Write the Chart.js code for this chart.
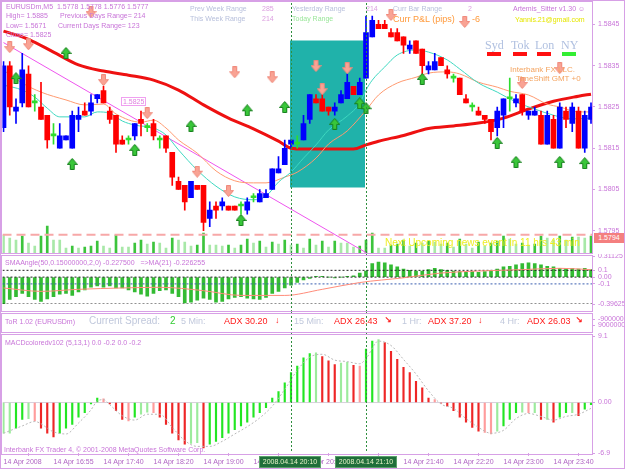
<!DOCTYPE html>
<html>
<head>
<meta charset="utf-8">
<script src="https://cdn.jsdelivr.net/npm/chart.js@4"></script>
<style>
body { margin: 0; background: #fff; }
#wrap { position: relative; width: 625px; height: 469px; overflow: hidden; background: #fff;
        font-family: "Liberation Sans", Arial, "DejaVu Sans", sans-serif; }
canvas { position: absolute; left: 0; }
.t { position: absolute; white-space: nowrap; font-size: 7px; line-height: 1; color: #c874d8; }
.frame { position: absolute; box-sizing: border-box; border: 1px solid #d7a0e6; pointer-events: none; }
.sess { position: absolute; height: 4px; width: 14px; top: 52px; }
.stamp { position: absolute; top: 456px; height: 12px; width: 62px; box-sizing: border-box; background: #1f6e3a;
         border: 1px solid #5aa06a; color: #e8f4c8; font-size: 7px; line-height: 10px; text-align: center; }
</style>
</head>
<body>
<div id="wrap">
  <canvas id="main" width="625" height="254" style="top:0"></canvas>
  <canvas id="sma" width="625" height="58" style="top:254px"></canvas>
  <canvas id="tor" width="625" height="21" style="top:312px"></canvas>
  <canvas id="macd" width="625" height="136" style="top:333px"></canvas>

  <!-- main window texts -->
  <div class="t" style="left:6px;top:3px">EURUSDm,M5&nbsp; 1.5778 1.5778 1.5776 1.5777</div>
  <div class="t" style="left:6px;top:12px">High= 1.5885</div>
  <div class="t" style="left:60px;top:12px">Previous Days Range= 214</div>
  <div class="t" style="left:6px;top:22px">Low= 1.5671</div>
  <div class="t" style="left:58px;top:22px">Current Days Range= 123</div>
  <div class="t" style="left:6px;top:31px">Close= 1.5825</div>
  <div class="t" style="left:190px;top:5px;color:#b8c0dc">Prev Week Range</div>
  <div class="t" style="left:262px;top:5px;color:#dca0e0">285</div>
  <div class="t" style="left:190px;top:15px;color:#b8c0dc">This Week Range</div>
  <div class="t" style="left:262px;top:15px;color:#dca0e0">214</div>
  <div class="t" style="left:292px;top:5px;color:#b8c0dc">Yesterday Range</div>
  <div class="t" style="left:366px;top:5px;color:#dca0e0">214</div>
  <div class="t" style="left:292px;top:15px;color:#99e699">Today Range</div>
  <div class="t" style="left:393px;top:5px;color:#b8c0dc">Curr Bar Range</div>
  <div class="t" style="left:468px;top:5px;color:#dca0e0">2</div>
  <div class="t" style="left:393px;top:15px;font-size:9px;color:#ff9a3c">Curr P&amp;L (pips)</div>
  <div class="t" style="left:472px;top:15px;font-size:9px;color:#ff9a3c">-6</div>
  <div class="t" style="left:513px;top:5px">Artemis_Sitter v1.30 &#9786;</div>
  <div class="t" style="left:515px;top:16px;color:#e6e600">Yannis.21@gmail.com</div>
  <div class="t" style="left:485px;top:38px;font:12px 'Liberation Serif',serif;color:#b0c0e0">Syd</div>
  <div class="t" style="left:511px;top:38px;font:12px 'Liberation Serif',serif;color:#b0c0e0">Tok</div>
  <div class="t" style="left:535px;top:38px;font:12px 'Liberation Serif',serif;color:#b0c0e0">Lon</div>
  <div class="t" style="left:561px;top:38px;font:12px 'Liberation Serif',serif;color:#b0c0e0">NY</div>
  <div class="sess" style="left:487px;background:#ff1010"></div>
  <div class="sess" style="left:513px;background:#ff1010"></div>
  <div class="sess" style="left:537px;background:#ff1010"></div>
  <div class="sess" style="left:562px;background:#33ee33"></div>
  <div class="t" style="left:510px;top:66px;font-size:8px;color:#f4a460">Interbank FX LLC.</div>
  <div class="t" style="left:516px;top:75px;font-size:8px;color:#f4a460">TimeShift GMT +0</div>
  <div class="t" style="left:121px;top:97px;border:1px solid #f0a0f0;color:#e080e0;padding:0 1px">1.5825</div>
  <div class="t" style="left:385px;top:238px;font-size:10px;color:#eeee22">Next Upcoming news event in 11 hrs 43 min</div>
  <div class="t" style="left:594px;top:233px;width:30px;height:10px;line-height:10px;background:#f47f7f;color:#fff;text-align:center">1.5794</div>

  <!-- indicator window texts -->
  <div class="t" style="left:5px;top:259px">SMAAngle(50,0.15000000,2,0) -0.227500 &nbsp; =&gt;MA(21) -0.226255</div>
  <div class="t" style="left:5px;top:318px">ToR 1.02 (EURUSDm)</div>
  <div class="t" style="left:89px;top:316px;font-size:10px;color:#c0c8dc">Current Spread:</div>
  <div class="t" style="left:170px;top:316px;font-size:10px;color:#33cc33">2</div>
  <div class="t" style="left:181px;top:317px;font-size:9px;color:#c0c8dc">5 Min:</div>
  <div class="t" style="left:224px;top:317px;font-size:9px;color:#ff2020">ADX 30.20</div>
  <div class="t" style="left:275px;top:316px;font-size:9px;font-weight:bold;color:#ff2020">&#8595;</div>
  <div class="t" style="left:294px;top:317px;font-size:9px;color:#c0c8dc">15 Min:</div>
  <div class="t" style="left:334px;top:317px;font-size:9px;color:#ff2020">ADX 26.43</div>
  <div class="t" style="left:384px;top:316px;font-size:9px;font-weight:bold;color:#ff2020">&#8600;</div>
  <div class="t" style="left:402px;top:317px;font-size:9px;color:#c0c8dc">1 Hr:</div>
  <div class="t" style="left:428px;top:317px;font-size:9px;color:#ff2020">ADX 37.20</div>
  <div class="t" style="left:478px;top:316px;font-size:9px;font-weight:bold;color:#ff2020">&#8595;</div>
  <div class="t" style="left:500px;top:317px;font-size:9px;color:#c0c8dc">4 Hr:</div>
  <div class="t" style="left:527px;top:317px;font-size:9px;color:#ff2020">ADX 26.03</div>
  <div class="t" style="left:575px;top:316px;font-size:9px;font-weight:bold;color:#ff2020">&#8600;</div>
  <div class="t" style="left:5px;top:339px">MACDcoloredv102 (5,13,1) 0.0 -0.2 0.0 -0.2</div>
  <div class="t" style="left:4px;top:446px">Interbank FX Trader 4, &copy; 2001-2008 MetaQuotes Software Corp.</div>

  <div class="stamp" style="left:259px">2008.04.14 20:10</div>
  <div class="stamp" style="left:335px">2008.04.14 21:10</div>

  <!-- window frames -->
  <div class="frame" style="left:0;top:0;width:625px;height:469px"></div>
  <div class="frame" style="left:1px;top:1px;width:592px;height:253px"></div>
  <div class="frame" style="left:1px;top:255px;width:592px;height:57px"></div>
  <div class="frame" style="left:1px;top:313px;width:592px;height:20px"></div>
  <div class="frame" style="left:1px;top:334px;width:592px;height:121px"></div>
</div>

<script>
// EURUSDm M5 candles, bar 0 = 16:20, bar 46 = 20:10, bar 58 = 21:10
const opens  = [1.5820,1.5835,1.5824,1.5826,1.5833,1.5826,1.5825,1.5823,1.5818,1.5815,
                1.5817,1.5815,1.5822,1.5824,1.5824,1.5827,1.5829,1.5824,1.5823,1.5817,
                1.5817,1.5818,1.5822,1.5820,1.5821,1.5817,1.5818,1.5814,1.5807,1.5806,
                1.5803,1.5806,1.5806,1.5798,1.5801,1.5801,1.5801,1.5801,1.5801,1.5800,
                1.5803,1.5802,1.5803,1.5805,1.5809,1.5811,1.5816,1.5816,1.5817,1.5822,
                1.5827,1.5827,1.5825,1.5824,1.5826,1.5827,1.5830,1.5828,1.5832,1.5842,
                1.5845,1.5845,1.5843,1.5843,1.5842,1.5839,1.5841,1.5839,1.5834,1.5834,
                1.5837,1.5834,1.5832,1.5832,1.5827,1.5825,1.5824,1.5823,1.5822,1.5820,
                1.5823,1.5827,1.5826,1.5828,1.5823,1.5823,1.5823,1.5816,1.5822,1.5815,
                1.5824,1.5821,1.5824,1.5815,1.5822];
const highs  = [1.5836,1.5836,1.5827,1.5838,1.5835,1.5828,1.5831,1.5823,1.5821,1.5821,
                1.5818,1.5824,1.5825,1.5826,1.5828,1.5828,1.5830,1.5825,1.5823,1.5818,
                1.5818,1.5821,1.5824,1.5821,1.5822,1.5818,1.5818,1.5814,1.5808,1.5806,
                1.5807,1.5806,1.5806,1.5802,1.5802,1.5803,1.5801,1.5801,1.5802,1.5803,
                1.5804,1.5805,1.5805,1.5810,1.5813,1.5817,1.5817,1.5818,1.5823,1.5828,
                1.5828,1.5828,1.5825,1.5826,1.5829,1.5833,1.5830,1.5832,1.5847,1.5847,
                1.5846,1.5846,1.5844,1.5844,1.5842,1.5841,1.5841,1.5839,1.5836,1.5838,
                1.5837,1.5835,1.5833,1.5832,1.5828,1.5826,1.5825,1.5823,1.5822,1.5825,
                1.5827,1.5832,1.5828,1.5828,1.5824,1.5825,1.5824,1.5824,1.5823,1.5826,
                1.5825,1.5826,1.5825,1.5824,1.5826];
const lows   = [1.5819,1.5823,1.5821,1.5825,1.5825,1.5824,1.5822,1.5815,1.5816,1.5815,
                1.5817,1.5815,1.5819,1.5823,1.5823,1.5826,1.5826,1.5821,1.5814,1.5816,
                1.5816,1.5817,1.5818,1.5819,1.5817,1.5815,1.5814,1.5806,1.5805,1.5800,
                1.5803,1.5805,1.5795,1.5796,1.5798,1.5800,1.5800,1.5800,1.5799,1.5799,
                1.5802,1.5802,1.5803,1.5805,1.5809,1.5811,1.5815,1.5815,1.5817,1.5821,
                1.5826,1.5824,1.5823,1.5823,1.5826,1.5827,1.5828,1.5828,1.5832,1.5842,
                1.5844,1.5844,1.5842,1.5841,1.5838,1.5838,1.5838,1.5833,1.5833,1.5834,
                1.5835,1.5832,1.5831,1.5828,1.5826,1.5824,1.5823,1.5821,1.5817,1.5818,
                1.5820,1.5824,1.5825,1.5823,1.5822,1.5823,1.5816,1.5816,1.5815,1.5815,
                1.5820,1.5819,1.5815,1.5814,1.5821];
const closes = [1.5835,1.5825,1.5825,1.5834,1.5825,1.5826,1.5822,1.5817,1.5818,1.5818,
                1.5818,1.5823,1.5823,1.5823,1.5826,1.5828,1.5826,1.5822,1.5816,1.5816,
                1.5817,1.5821,1.5821,1.5820,1.5818,1.5817,1.5815,1.5808,1.5805,1.5802,
                1.5807,1.5805,1.5797,1.5800,1.5800,1.5802,1.5800,1.5800,1.5801,1.5802,
                1.5803,1.5804,1.5804,1.5810,1.5810,1.5815,1.5817,1.5816,1.5821,1.5828,
                1.5826,1.5824,1.5824,1.5825,1.5828,1.5831,1.5828,1.5831,1.5843,1.5846,
                1.5844,1.5844,1.5842,1.5841,1.5840,1.5840,1.5838,1.5835,1.5835,1.5836,
                1.5835,1.5833,1.5832,1.5828,1.5826,1.5825,1.5823,1.5822,1.5819,1.5824,
                1.5827,1.5827,1.5827,1.5824,1.5824,1.5824,1.5816,1.5823,1.5815,1.5825,
                1.5822,1.5825,1.5815,1.5823,1.5825];
// tick volume (relative heights)
const volumes = [18,15,13,17,10,7,17,27,13,13,5,7,5,6,7,12,7,5,18,6,
                 6,10,13,9,11,10,5,15,13,11,7,8,20,8,8,7,8,5,8,14,
                 10,12,6,11,9,13,8,9,5,14,8,12,6,12,10,10,6,7,13,20,
                 5,5,8,9,13,7,10,10,12,11,9,10,6,14,9,5,11,7,10,12,
                 17,14,9,10,8,9,17,15,13,17,13,16,16,15,17];

// moving averages (bar index -> price)
const slowMaBars = [0,4,8,12,16,20,24,28,32,36,40,44,46,48,52,56,58,60,64,68,72,76,80,84,88,92,94];
const slowMa = [1.58434,1.58414,1.58383,1.58352,1.58337,1.58327,1.58315,1.58291,1.58255,1.58223,1.58197,1.58167,
                1.58150,1.58148,1.58148,1.58148,1.58158,1.58167,1.58181,1.58198,1.58204,1.58211,1.58223,1.58245,
                1.58264,1.58276,1.58281];
const midMaBars = [0,3,6,10,13,16,18,22,24,26,28,31,34,37,40,42,45,47,50,52,55,58,60,63,66,68,71,73,76,79,81,84,87,89,92,94];
const midMa = [1.58339,1.58308,1.58286,1.58267,1.58255,1.58257,1.58233,1.58213,1.58218,1.58199,1.58170,1.58138,
               1.58095,1.58071,1.58066,1.58066,1.58080,1.58092,1.58126,1.58160,1.58192,1.58242,1.58279,1.58308,
               1.58322,1.58332,1.58335,1.58330,1.58310,1.58298,1.58288,1.58279,1.58257,1.58250,1.58238,1.58238];
const fastMaBars = [0,3,5,7,9,11,13,15,17,19,21,24,26,28,31,34,37,40,42,44,46,48,50,52,55,57,58,59,61,63,66,68,71,73,76,79,82,85,88,91,94];
const fastMa = [1.58303,1.58291,1.58274,1.58247,1.58226,1.58226,1.58226,1.58238,1.58235,1.58216,1.58206,1.58199,
                1.58182,1.58146,1.58097,1.58058,1.58032,1.58025,1.58034,1.58068,1.58092,1.58126,1.58158,1.58194,
                1.58228,1.58259,1.58291,1.58315,1.58347,1.58376,1.58388,1.58383,1.58364,1.58342,1.58308,1.58286,
                1.58262,1.58245,1.58230,1.58221,1.58223];
const trendBars = [0, 58];
const trendPrices = [1.58406, 1.57897];
const rangeBoxBars = [45.84, 57.84];
const rangeBoxPrices = [1.58055, 1.58411];
const bidLine = 1.5794;

// signal arrows
const downArrowBars   = [1,4,14,16,23,31,36,37,43,50,51,55,62,73.8,83,89];
const downArrowPrices = [1.58395,1.58402,1.58480,1.58315,1.58235,1.58093,1.58046,1.58334,1.58322,1.58349,
                         1.58293,1.58344,1.58473,1.58456,1.58308,1.58344];
const upArrowBars   = [2,10,11,21,30,38,39,45,53,57,58,67,79,82,89,93];
const upArrowPrices = [1.58320,1.58381,1.58112,1.58146,1.58204,1.57976,1.58242,1.58250,1.58209,1.58259,
                       1.58247,1.58318,1.58163,1.58117,1.58117,1.58114];

const priceTicks = [1.5795, 1.5805, 1.5815, 1.5825, 1.5835, 1.5845];

// SMAAngle window
const smaAngle = [-0.40,-0.33,-0.29,-0.24,-0.29,-0.33,-0.36,-0.32,-0.29,-0.25,
                  -0.24,-0.27,-0.22,-0.19,-0.15,-0.13,-0.15,-0.13,-0.16,-0.16,
                  -0.19,-0.22,-0.25,-0.28,-0.24,-0.20,-0.19,-0.24,-0.29,-0.38,
                  -0.37,-0.34,-0.31,-0.33,-0.37,-0.36,-0.32,-0.30,-0.29,-0.31,
                  -0.32,-0.33,-0.30,-0.24,-0.21,-0.16,-0.12,-0.08,-0.04,-0.02,
                  0.01,0.01,0.00,-0.01,0.00,0.01,0.02,0.06,0.09,0.20,
                  0.22,0.21,0.18,0.15,0.12,0.10,0.09,0.09,0.11,0.13,
                  0.11,0.10,0.09,0.08,0.07,0.08,0.07,0.08,0.10,0.12,
                  0.15,0.16,0.18,0.20,0.21,0.20,0.18,0.16,0.15,0.13,
                  0.13,0.13,0.12,0.13,0.11];
const smaMaBars = [0,6,12,19,25,32,38,45,51,57,64,70,76,83,89,94];
const smaMa = [-0.16,-0.21,-0.18,-0.16,-0.15,-0.20,-0.27,-0.27,-0.18,-0.08,-0.01,0.06,0.09,0.11,0.13,0.11];
const smaLevels = [0.1, 0, -0.1, -0.39625];
const smaTicks = [0.31125, 0.1, 0, -0.1, -0.39625];

// ToR window scale
const torTicks = [-90000000, 90000000];

// MACD colored window
const macdHist = [-4.2,-4.2,-3.5,-2.3,-2.2,-2.5,-3.5,-4.2,-4.7,-4.2,
                  -3.5,-3.0,-2.0,-1.4,-0.2,0.6,0.5,-0.2,-1.1,-2.3,
                  -2.5,-2.0,-1.6,-1.3,-1.4,-2.0,-3.0,-4.2,-5.1,-5.7,
                  -5.6,-5.5,-6.2,-5.7,-5.3,-4.8,-4.2,-3.7,-3.2,-2.7,
                  -2.0,-1.4,-0.7,0.6,1.5,2.7,4.1,5.0,6.1,6.7,
                  6.8,6.3,5.7,5.2,5.4,5.5,5.1,5.0,7.3,8.4,
                  8.6,8.2,7.0,5.9,4.8,4.1,2.9,2.0,0.6,0.4,
                  -0.1,-0.5,-1.1,-2.0,-2.7,-3.4,-3.9,-4.1,-4.3,-3.9,
                  -3.2,-2.3,-1.4,-1.3,-1.4,-1.4,-2.3,-2.3,-2.7,-2.0,
                  -1.4,-1.4,-1.8,-0.9,-0.3];
const macdSignalBars = [0,3,5,8,10,12,14,15,16,17,19,21,23,25,27,29,31,33,35,37,39,41,43,45,47,49,51,53,55,57,58,
                        60,62,64,66,68,70,72,74,76,78,80,82,84,86,88,90,92,94];
const macdSignal = [-4.2,-3.2,-2.6,-4.0,-4.3,-2.8,-1.0,0.2,0.4,-0.3,-1.8,-2.4,-1.6,-1.6,-3.4,-5.2,-6.0,-6.0,-5.3,
                    -4.3,-3.3,-2.1,-0.5,1.8,4.4,6.2,6.6,5.8,5.6,5.3,6.0,8.4,7.8,5.9,3.9,1.6,-0.2,-0.8,-2.2,-3.4,
                    -4.2,-3.8,-2.2,-1.5,-1.9,-2.4,-1.9,-1.6,-0.8];
const macdTicks = [9.1, 0, -6.9];

// time axis
const timeTickBars = [0,8,16,24,32,40,48,56,64,72,80,88];
const timeLabels = ['14 Apr 2008','14 Apr 16:55','14 Apr 17:40','14 Apr 18:20','14 Apr 19:00','14 Apr 19:40',
                    '14 Apr 20:20','14 Apr 21:00','14 Apr 21:40','14 Apr 22:20','14 Apr 23:00','14 Apr 23:40'];
const sessionBars = [46, 58];

const xMin = -0.16, xMax = 94.16;
const VIOLET = '#c874d8', PLUM = '#d7a0e6';

Chart.defaults.font.family = '"Liberation Sans", Arial, sans-serif';
Chart.defaults.font.size = 7;

// dotted vertical lines at 20:10 and 21:10
const sessionLines = {
  id: 'sessionLines',
  afterDatasetsDraw(chart, args, opts) {
    const {ctx, chartArea, scales} = chart;
    const top = opts.fromArea ? chartArea.top : 0;
    const bottom = opts.toArea ? chartArea.bottom : chart.height;
    ctx.save();
    ctx.strokeStyle = '#2f8f3f';
    ctx.lineWidth = 1;
    ctx.setLineDash([2, 2]);
    sessionBars.forEach(b => {
      const px = Math.round(scales.x.getPixelForValue(b)) + 0.5;
      ctx.beginPath();
      ctx.moveTo(px, top);
      ctx.lineTo(px, bottom);
      ctx.stroke();
    });
    ctx.restore();
  }
};

function makeArrow(up, fill, stroke) {
  const c = document.createElement('canvas');
  c.width = 11; c.height = 12;
  const g = c.getContext('2d');
  const pts = [[3.5,0.5],[7.5,0.5],[7.5,5.5],[10.5,5.5],[5.5,11.5],[0.5,5.5],[3.5,5.5]];
  g.beginPath();
  pts.forEach(([px, py], k) => {
    const yy = up ? 12 - py : py;
    if (k) g.lineTo(px, yy); else g.moveTo(px, yy);
  });
  g.closePath();
  g.fillStyle = fill;
  g.fill();
  g.strokeStyle = stroke;
  g.lineWidth = 1;
  g.stroke();
  return c;
}
const arrowDown = makeArrow(false, '#f9a394', '#f08a7c');
const arrowUp = makeArrow(true, '#39c639', '#16801c');

function candleColor(i) {
  if (closes[i] > opens[i]) return '#0000ff';
  if (closes[i] < opens[i]) return '#ff0000';
  return '#2edc2e';
}
const candleColors = opens.map((_, i) => candleColor(i));
const pts = (bars, vals) => bars.map((b, k) => ({x: b, y: vals[k]}));

function xScale(show) {
  const s = {
    type: 'linear', min: xMin, max: xMax, offset: false, display: show,
    afterBuildTicks: sc => { sc.ticks = timeTickBars.map(v => ({value: v})); },
    ticks: { color: '#b064c4', align: 'start', maxRotation: 0, autoSkip: false, padding: 2,
             callback: v => timeLabels[timeTickBars.indexOf(v)] },
    grid: { drawOnChartArea: false, tickLength: 3, color: PLUM },
    border: { display: false }
  };
  if (show) s.afterFit = sc => { sc.height = 14; sc.paddingLeft = 0; sc.paddingRight = 0; };
  return s;
}
function yScale(min, max, ticks, fmt, extra) {
  return Object.assign({
    position: 'right', min: min, max: max,
    afterBuildTicks: s => { s.ticks = ticks.map(v => ({value: v})); },
    // fixed axis width, and no extra room for the end labels
    afterFit: s => { s.width = 33; s.paddingTop = 0; s.paddingBottom = 0; },
    ticks: { color: VIOLET, padding: 3, autoSkip: false, callback: fmt },
    grid: { drawOnChartArea: false, tickLength: 3, color: PLUM },
    border: { display: false }
  }, extra || {});
}
const common = {
  responsive: false, animation: false, events: []
};
function layout(top, bottom) {
  return { autoPadding: false, padding: { left: 2.5, top: top, bottom: bottom, right: 0 } };
}

// main price window
new Chart(document.getElementById('main'), {
  type: 'bar',
  data: { datasets: [
    { type: 'line', data: pts(rangeBoxBars, [rangeBoxPrices[1], rangeBoxPrices[1]]),
      fill: {value: rangeBoxPrices[0]}, backgroundColor: '#20b2aa', borderWidth: 0, pointRadius: 0, order: 20 },
    { type: 'bar', yAxisID: 'yVol', data: volumes.map((v, i) => ({x: i, y: v})),
      backgroundColor: volumes.map((v, i) => (i > 0 && v > volumes[i - 1]) ? '#3cc43c' : '#a8e8a8'),
      barThickness: 2, grouped: false, order: 19 },
    { type: 'line', data: [{x: xMin, y: bidLine}, {x: xMax, y: bidLine}], borderColor: '#f7a8a8',
      borderWidth: 2, borderDash: [9, 5], pointRadius: 0, order: 18 },
    { type: 'line', data: pts(trendBars, trendPrices), borderColor: '#ee55ee', borderWidth: 1, pointRadius: 0, order: 17 },
    { type: 'line', data: pts(slowMaBars, slowMa), borderColor: '#ee1111', borderWidth: 3,
      cubicInterpolationMode: 'monotone', pointRadius: 0, order: 16 },
    { type: 'line', data: pts(midMaBars, midMa), borderColor: '#ff9a70', borderWidth: 1,
      cubicInterpolationMode: 'monotone', pointRadius: 0, order: 15 },
    { type: 'line', data: pts(fastMaBars, fastMa), borderColor: '#3fd8c0', borderWidth: 1,
      cubicInterpolationMode: 'monotone', pointRadius: 0, order: 14 },
    { type: 'bar', data: opens.map((_, i) => ({x: i, y: [lows[i], highs[i]]})),
      backgroundColor: candleColors, barThickness: 1, grouped: false, order: 4 },
    { type: 'bar', data: opens.map((o, i) => ({x: i, y: [o, closes[i]]})),
      backgroundColor: candleColors, barThickness: 5, minBarLength: 2, grouped: false, order: 3 },
    { type: 'line', data: pts(downArrowBars, downArrowPrices), showLine: false,
      pointStyle: arrowDown, pointRadius: 6, order: 2 },
    { type: 'line', data: pts(upArrowBars, upArrowPrices), showLine: false,
      pointStyle: arrowUp, pointRadius: 6, order: 1 }
  ]},
  options: Object.assign({}, common, {
    layout: layout(3, 1),
    plugins: { legend: {display: false}, tooltip: {enabled: false}, sessionLines: {fromArea: true, toArea: true} },
    scales: {
      x: xScale(false),
      y: yScale(1.57896, 1.58502, priceTicks, v => v.toFixed(4)),
      yVol: { display: false, min: 0, max: 250 }
    }
  }),
  plugins: [sessionLines]
});

// SMAAngle window
const levelColors = ['#222222', '#222222', '#3a5fb0', '#222222'];
new Chart(document.getElementById('sma'), {
  type: 'bar',
  data: { datasets: [
    { type: 'bar', data: smaAngle.map((v, i) => ({x: i, y: v})), backgroundColor: '#33bb33',
      barThickness: 3, grouped: false, order: 5 },
    { type: 'line', data: pts(smaMaBars, smaMa), borderColor: '#ff8c7a', borderWidth: 1,
      cubicInterpolationMode: 'monotone', pointRadius: 0, order: 1 }
  ].concat(smaLevels.map((lv, k) => ({
      type: 'line', data: [{x: xMin, y: lv}, {x: xMax, y: lv}], borderColor: levelColors[k],
      borderWidth: 1, borderDash: [2, 2], pointRadius: 0, order: 2 })))
  },
  options: Object.assign({}, common, {
    layout: layout(2, 8),
    plugins: { legend: {display: false}, tooltip: {enabled: false}, sessionLines: {} },
    scales: {
      x: xScale(false),
      y: yScale(-0.39625, 0.31125, smaTicks, v => v === 0 ? '0.00' : String(v))
    }
  }),
  plugins: [sessionLines]
});

// ToR window (text only)
new Chart(document.getElementById('tor'), {
  type: 'bar',
  data: { datasets: [] },
  options: Object.assign({}, common, {
    layout: layout(7, 8),
    plugins: { legend: {display: false}, tooltip: {enabled: false}, sessionLines: {} },
    scales: {
      x: xScale(false),
      y: yScale(-90000000, 90000000, torTicks, v => String(v), { reverse: true })
    }
  }),
  plugins: [sessionLines]
});

// MACD colored window
function macdColor(i) {
  const prev = i > 0 ? macdHist[i - 1] : macdHist[i];
  const d = macdHist[i] - prev;
  if (d >= 0) return Math.abs(d) < 0.4 ? '#9ceb9c' : '#22e622';
  return Math.abs(d) < 0.4 ? '#ff9c9c' : '#ee2626';
}
new Chart(document.getElementById('macd'), {
  type: 'bar',
  data: { datasets: [
    { type: 'line', data: [{x: xMin, y: 0}, {x: xMax, y: 0}], borderColor: '#d8d0dc', borderWidth: 1,
      pointRadius: 0, order: 5 },
    { type: 'bar', data: macdHist.map((v, i) => ({x: i, y: v})), backgroundColor: macdHist.map((_, i) => macdColor(i)),
      barThickness: 1.5, grouped: false, order: 3 },
    { type: 'line', data: pts(macdSignalBars, macdSignal), borderColor: '#b8b8b8', borderWidth: 1,
      borderDash: [2, 2], cubicInterpolationMode: 'monotone', pointRadius: 0, order: 1 }
  ]},
  options: Object.assign({}, common, {
    layout: layout(3, 2),
    plugins: { legend: {display: false}, tooltip: {enabled: false}, sessionLines: {toArea: true} },
    scales: {
      x: xScale(true),
      y: yScale(-6.9, 9.1, macdTicks, v => v === 0 ? '0.00' : String(v))
    }
  }),
  plugins: [sessionLines]
});
</script>
</body>
</html>
